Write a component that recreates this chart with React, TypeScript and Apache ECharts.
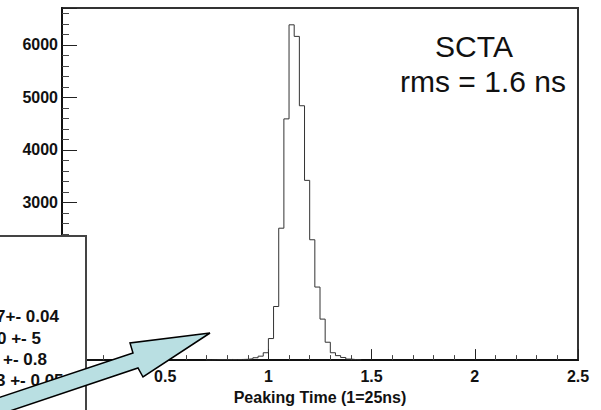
import React, { useEffect, useRef } from "react";
import * as echarts from "echarts";

// Histogram bin lower edges (Peaking Time, 1 = 25 ns) and counts per bin
const binEdges = [
  0.7, 0.725, 0.75, 0.775, 0.8, 0.825, 0.85, 0.875, 0.9, 0.925, 0.95, 0.975,
  1.0, 1.025, 1.05, 1.075, 1.1, 1.125, 1.15, 1.175, 1.2, 1.225, 1.25, 1.275,
  1.3, 1.325, 1.35, 1.375, 1.4, 1.425, 1.45,
];
const counts = [
  0, 5, 10, 8, 12, 10, 12, 15, 25, 45, 75, 140,
  410, 1020, 2510, 4590, 6380, 6160, 4840, 3420, 2290, 1390, 780, 340,
  140, 85, 50, 20, 10, 5,
];

const xTicks = ["0.5", "1", "1.5", "2", "2.5"];
const yTicks = ["3000", "4000", "5000", "6000"];
const statsLines = ["7+- 0.04", "0 +- 5", "+- 0.8", "3 +- 0.05"];
const titleLines = ["SCTA", "rms = 1.6 ns"];
const xTitle = "Peaking Time (1=25ns)";

export default function App() {
  const ref = useRef<HTMLDivElement>(null);
  useEffect(() => {
    document.body.style.margin = "0";
    if (!ref.current) return;
    const chart = echarts.init(ref.current, null, { renderer: "svg" });
    const data: [number, number][] = counts.map((c, i) => [binEdges[i], c]);
    data.push([binEdges[binEdges.length - 1], 0]);
    const ff = "Liberation Sans, Arial, sans-serif";
    const labelFont = { fontFamily: ff, fontWeight: "bold" as const, color: "#111" };
    chart.setOption({
      animation: false,
      backgroundColor: "#ffffff",
      grid: {
        left: 62,
        right: 23,
        top: 8,
        bottom: 47,
        show: true,
        borderColor: "#333",
        borderWidth: 2,
        backgroundColor: "transparent",
      },
      xAxis: {
        type: "value",
        min: 0,
        max: 2.5,
        interval: 0.5,
        name: xTitle,
        nameLocation: "middle",
        nameGap: 26,
        nameTextStyle: { ...labelFont, fontSize: 16 },
        axisLine: { show: true, lineStyle: { color: "#111", width: 2 } },
        axisTick: { show: true, inside: true, length: 11, lineStyle: { color: "#222", width: 1 } },
        minorTick: { show: true, splitNumber: 5, length: 5, lineStyle: { color: "#444", width: 1 } },
        splitLine: { show: false },
        axisLabel: {
          ...labelFont,
          fontSize: 16,
          margin: 8,
          formatter: (v: number) => {
            const s = String(v);
            return xTicks.includes(s) ? s : "";
          },
        },
      },
      yAxis: {
        type: "value",
        min: 0,
        max: 6700,
        interval: 1000,
        axisLine: { show: true, lineStyle: { color: "#111", width: 2 } },
        axisTick: { show: true, inside: true, length: 15, lineStyle: { color: "#222", width: 1 } },
        minorTick: { show: true, splitNumber: 5, length: 7, lineStyle: { color: "#444", width: 1 } },
        splitLine: { show: false },
        axisLabel: {
          ...labelFont,
          fontSize: 16,
          margin: 4,
          showMaxLabel: false,
          formatter: (v: number) => {
            const s = String(v);
            return yTicks.includes(s) ? s : "";
          },
        },
      },
      series: [
        {
          type: "line",
          step: "end",
          data,
          showSymbol: false,
          symbol: "none",
          lineStyle: { color: "#333", width: 1 },
          z: 3,
        },
      ],
      graphic: [
        {
          type: "text",
          x: 474,
          y: 46,
          z: 10,
          style: {
            text: titleLines[0],
            fontSize: 30,
            fontFamily: ff,
            fill: "#111",
            align: "center",
            verticalAlign: "middle",
          },
        },
        {
          type: "text",
          x: 483,
          y: 81,
          z: 10,
          style: {
            text: titleLines[1],
            fontSize: 30,
            fontFamily: ff,
            fill: "#111",
            align: "center",
            verticalAlign: "middle",
          },
        },
        {
          type: "rect",
          z: 20,
          shape: { x: -10, y: 236, width: 96, height: 200 },
          style: { fill: "#ffffff", stroke: "#444", lineWidth: 2 },
        },
        ...statsLines.map((t, i) => ({
          type: "text",
          z: 21,
          x: [-4, -3, 3, -4][i],
          y: [316, 338, 359, 380][i],
          style: {
            text: t,
            fontSize: 17,
            fontWeight: "bold",
            fontFamily: ff,
            fill: "#111",
            align: "left",
            verticalAlign: "middle",
          },
        })),
        {
          type: "polygon",
          z: 30,
          shape: {
            points: [
              [210, 333],
              [130, 343],
              [133, 353],
              [-20, 404],
              [-20, 421],
              [138, 368],
              [143, 377],
            ],
          },
          style: { fill: "#b9dfe2", stroke: "#000", lineWidth: 1.5, lineJoin: "miter" },
        },
      ],
    });
    return () => chart.dispose();
  }, []);
  return <div ref={ref} style={{ width: 601, height: 410 }} />;
}
